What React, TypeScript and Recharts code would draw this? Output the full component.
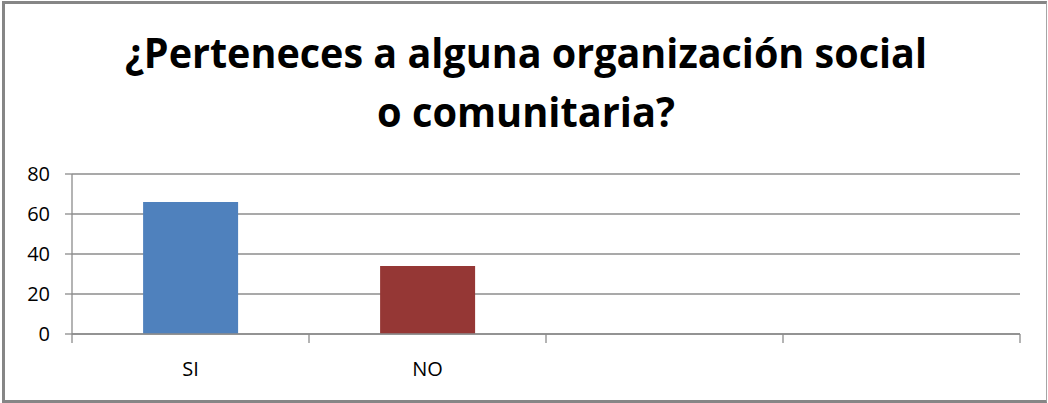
import { Bar, BarChart, CartesianGrid, XAxis, YAxis } from "recharts";

const categories = ["SI", "NO", "", ""];
const values = [66, 34, null, null];
const barColors = ["#4F81BD", "#953735", "#4F81BD", "#4F81BD"];
const yTicks = [0, 20, 40, 60, 80];
const titleLines = ["¿Perteneces a alguna organización social", "o comunitaria?"];

const data = categories.map((name, i) => ({ name, value: values[i] }));

const axisColor = "#8c8c8c";
const labelFont = "'Open Sans', sans-serif";

const titleStyle = {
  fontFamily: labelFont,
  fontWeight: 700,
  fontSize: 42,
};

function CategoryTick(props: any) {
  const { x, y, payload, index } = props;
  const half = payload?.offset ?? 118.5;
  const isLast = index === categories.length - 1;
  return (
    <g>
      <line x1={x - half} y1={y} x2={x - half} y2={y + 9} stroke={axisColor} strokeWidth={1.3} />
      {isLast && (
        <line x1={x + half} y1={y} x2={x + half} y2={y + 9} stroke={axisColor} strokeWidth={1.3} />
      )}
      <text
        x={x}
        y={y + 42}
        textAnchor="middle"
        fontFamily={labelFont}
        fontSize={20}
        fill="#000"
      >
        {payload.value}
      </text>
    </g>
  );
}

function ValueTick(props: any) {
  const { x, y, payload } = props;
  return (
    <text
      x={x}
      y={y + 7}
      textAnchor="end"
      fontFamily={labelFont}
      fontSize={20}
      fill="#000"
    >
      {payload.value}
    </text>
  );
}

export default function App() {
  return (
    <div
      style={{
        position: "absolute",
        left: 0,
        top: 0,
        width: 1048,
        height: 403,
        background: "#fff",
        overflow: "hidden",
      }}
    >
      <div
        style={{
          position: "absolute",
          left: 2,
          top: 1,
          width: 1045,
          height: 402,
          boxSizing: "border-box",
          borderLeft: "3px solid #868686",
          borderTop: "3px solid #868686",
          borderRight: "1px solid #a6a6a6",
          borderBottom: "3px solid #868686",
        }}
      />
      <svg
        width={1048}
        height={150}
        style={{ position: "absolute", left: 0, top: 0 }}
      >
        <text
          x={125}
          y={68}
          textLength={802}
          lengthAdjust="spacingAndGlyphs"
          style={titleStyle}
          fill="#000"
        >
          {titleLines[0]}
        </text>
        <text
          x={377}
          y={127}
          textLength={298}
          lengthAdjust="spacingAndGlyphs"
          style={titleStyle}
          fill="#000"
        >
          {titleLines[1]}
        </text>
      </svg>
      <div style={{ position: "absolute", left: 0, top: 0 }}>
        <BarChart
          width={1048}
          height={403}
          data={data}
          margin={{ top: 174, right: 28, bottom: 29, left: 12 }}
          barCategoryGap="30%"
        >
          <CartesianGrid vertical={false} stroke={axisColor} strokeWidth={1.3} />
          <XAxis
            dataKey="name"
            height={40}
            axisLine={{ stroke: axisColor, strokeWidth: 1.3 }}
            tickLine={false}
            tickSize={0}
            tickMargin={0}
            tick={<CategoryTick />}
            interval={0}
          />
          <YAxis
            domain={[0, 80]}
            ticks={yTicks}
            width={60}
            tickSize={7}
            tickMargin={15}
            tick={<ValueTick />}
            axisLine={{ stroke: axisColor, strokeWidth: 1.3 }}
            tickLine={{ stroke: axisColor, strokeWidth: 1.3 }}
          />
          <Bar
            dataKey="value"
            isAnimationActive={false}
            shape={(props: any) => (
              <rect
                x={props.x}
                y={props.y}
                width={props.width}
                height={props.height}
                fill={barColors[props.index]}
              />
            )}
          />
        </BarChart>
      </div>
    </div>
  );
}
